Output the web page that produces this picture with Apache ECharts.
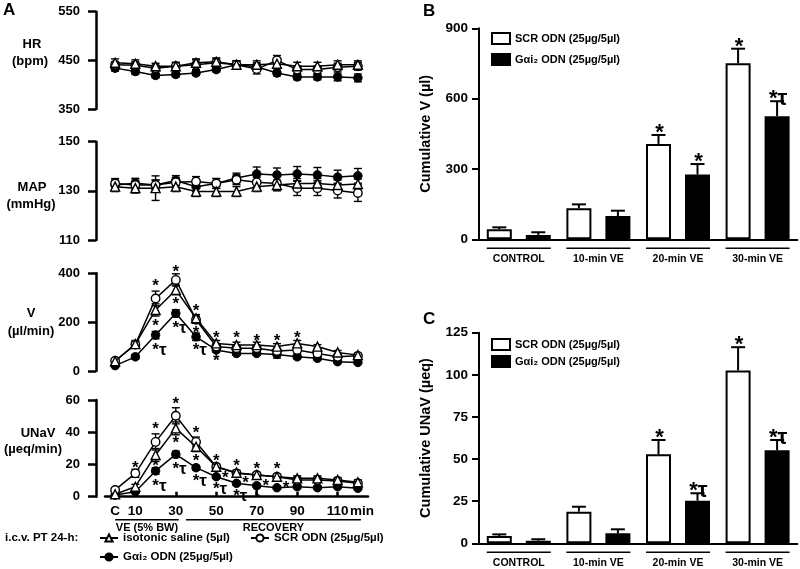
<!DOCTYPE html>
<html><head><meta charset="utf-8">
<script src="https://cdn.jsdelivr.net/npm/echarts@6/dist/echarts.min.js"></script>
<style>html,body{margin:0;padding:0;background:#fff}#c{width:800px;height:569px}</style>
</head><body><div id="c"></div><script>
// ---------- Panel A data ----------
const xCats = ['C','10','20','30','40','50','60','70','80','90','100','110','120'];
const xTickLabels = ['C','10','','30','','50','','70','','90','','110','min'];
const seriesNames = ['isotonic saline (5µl)', 'SCR ODN (25µg/5µl)', 'Gαi₂ ODN (25µg/5µl)'];

const hrTicks = [350, 450, 550];
const hrSaline = [445,443,438,438,445,447,441,441,443,438,438,441,441];
const hrSCR    = [441,440,434,438,441,445,441,432,450,431,431,436,438];
const hrGai    = [434,427,419,421,424,431,441,437,424,416,416,416,414];
const hrSalineErr = [8,8,6,8,8,8,8,8,8,8,8,8,8];
const hrSCRErr    = [6,7,6,7,10,8,8,10,10,8,8,8,8];
const hrGaiErr    = [6,6,5,5,5,5,8,8,6,6,6,8,8];

const mapTicks = [110, 130, 150];
const mapSaline = [131.7,131.1,131.1,131.7,129.7,129.7,129.7,131.7,132.4,133,133,132.4,132.8];
const mapSCR    = [133,132.4,132.4,133.5,133.8,133,134.5,133.5,133,131.1,131.1,130.1,129.1];
const mapGai    = [132.4,133.1,132.4,134.2,131.7,133,135.2,136.9,136.5,136.9,136.5,135.6,136.1];
const mapSalineErr = [2,2,5,2,2,2,2,2,2,2,2,2,2];
const mapSCRErr    = [2,2,2,2,2,2,2,2,3,3,3,3,3.4];
const mapGaiErr    = [2,2,2,2,2,2,2,2.8,2.8,3,3,2.8,3];

const vTicks = [0, 200, 400];
const vSaline = [40,110,250,332,216,113,106,106,100,113,100,76,65];
const vSCR    = [42,108,297,373,210,100,93,93,82,86,72,58,62];
const vGai    = [22,58,147,236,140,86,72,72,68,58,52,38,35];
const vSalineErr = [5,15,25,20,15,12,12,12,12,12,8,8,6];
const vSCRErr    = [5,12,30,25,15,10,10,10,10,12,8,8,6];
const vGaiErr    = [4,10,15,15,15,8,8,8,15,8,6,6,5];
const vNotes = [[2,366,'*'],[2,202,'*'],[2,106,'*τ'],[3,423,'*'],[3,293,'*'],[3,195,'*τ'],
  [4,263,'*'],[4,175,'*'],[4,106,'*τ'],[5,154,'*'],[5,58,'*'],[6,154,'*'],[7,140,'*'],[8,140,'*'],[9,154,'*']];

const uTicks = [0, 20, 40, 60];
const uSaline = [1.5,6.2,25.9,42.4,31,18.6,14.9,13.5,12.4,11.4,11.4,10.4,9];
const uSCR    = [4.2,14.5,34,50.2,34,18.6,14.5,13.5,12.4,10.4,10.4,9.7,8.3];
const uGai    = [1.0,3.1,16,26.3,18,12.4,8.3,6.8,5.6,6.2,5.6,6.2,5.2];
const uSalineErr = [0.5,1.5,4,4,3,1.5,1.5,1.5,1.5,1.5,1.5,1.5,1.5];
const uSCRErr    = [1,2.5,5,5,3,1.5,1.5,1.5,1.5,1.5,1.5,1.5,1.5];
const uGaiErr    = [0.5,1,2,2,1.5,1,1,1,1,1,1,1,1];
const uNotes = [[1,20.7,'*'],[2,44.5,'*'],[2,21.7,'*'],[2,9.7,'*τ'],[3,60,'*'],[3,36.2,'*'],[3,19.7,'*τ'],
  [4,42.4,'*'],[4,24.8,'*'],[4,12.4,'*τ'],[5,24.8,'*'],[5,7.3,'*τ'],[6,21.7,'*'],[6,3.1,'*τ'],
  [7,19.7,'*'],[7,3.1,'τ'],[8,19.7,'*']];
const uNotesSide = [[5,14.5,'*'],[6,11.4,'*'],[7,9.3,'*'],[8,8.3,'*']];
const phaseLabels = ['VE (5% BW)', 'RECOVERY'];
const phaseStart = [0, 4];
const phaseEnd = [3, 12];

// ---------- Panels B / C data ----------
const barCats = ['CONTROL','10-min VE','20-min VE','30-min VE'];
const barNames = ['SCR ODN (25µg/5µl)', 'Gαi₂ ODN (25µg/5µl)'];
const bTicks = [0, 300, 600, 900];
const bSCR = [43,132,407,751];
const bSCRErr = [8,17,38,62];
const bGai = [18,99,276,525];
const bGaiErr = [12,23,45,64];
const bSCRMarks = ['','','*','*'];
const bGaiMarks = ['','','*','*τ'];
const cTicks = [0, 25, 50, 75, 100, 125];
const cSCR = [4.3,18.8,52.8,102.6];
const cSCRErr = [1,2.9,8.5,13.8];
const cGai = [1.5,5.9,25.3,55.2];
const cGaiErr = [0.9,2.4,4.4,6.1];
const cSCRMarks = ['','','*','*'];
const cGaiMarks = ['','','*τ','*τ'];

// ---------- chart ----------
const FONT = "'Liberation Sans', Arial, Helvetica, sans-serif";
const chart = echarts.init(document.getElementById('c'), null, {renderer: 'canvas'});

const aGrids = [
  {top: 11.7, height: 97.3},
  {top: 141.7, height: 98.3},
  {top: 273.3, height: 97.7},
  {top: 400, height: 96.7}
];
const grids = aGrids.map(g => ({left: 105, width: 263, top: g.top, height: g.height}));
grids.push({left: 479, width: 318.4, top: 28.3, height: 211});
grids.push({left: 479, width: 318.4, top: 332.7, height: 210.6});

const aTicks = [hrTicks, mapTicks, vTicks, uTicks];
const xAxes = [], yAxes = [];
for (let i = 0; i < 4; i++) {
  const showX = i === 3;
  xAxes.push({
    type: 'category', gridIndex: i, data: xCats, boundaryGap: true, show: showX,
    axisLine: {show: showX, lineStyle: {color: '#000', width: 2.5}},
    axisTick: {show: showX, inside: true, length: 5, alignWithLabel: true,
      interval: (idx) => [0,1,3,5,7,9,11].includes(idx), lineStyle: {color: '#000', width: 2.5}},
    axisLabel: {show: showX, interval: 0, margin: 8,
      formatter: (v, idx) => idx === xCats.length - 1 ? '{m|' + xTickLabels[idx] + '}' : xTickLabels[idx],
      rich: {m: {fontSize: 13.5, fontWeight: 'bold', color: '#000', fontFamily: FONT, padding: [0, 0, 0, 8]}},
      fontSize: 13.5, fontWeight: 'bold', color: '#000', fontFamily: FONT},
    splitLine: {show: false}
  });
  const t = aTicks[i];
  yAxes.push({
    type: 'value', gridIndex: i, min: t[0], max: t[t.length - 1], offset: 9,
    axisLine: {show: true, lineStyle: {color: '#000', width: 2.5}},
    axisTick: {show: true, length: 8, customValues: t, lineStyle: {color: '#000', width: 2.5}},
    axisLabel: {customValues: t, margin: 16, fontSize: 13, fontWeight: 'bold', color: '#000', fontFamily: FONT},
    splitLine: {show: false}
  });
}
[[4, bTicks, 'Cumulative V (µl)'], [5, cTicks, 'Cumulative UNaV (µeq)']].forEach(([gi, t, nm]) => {
  xAxes.push({
    type: 'category', gridIndex: gi, data: barCats,
    axisLine: {show: true, lineStyle: {color: '#000', width: 2}},
    axisTick: {show: false},
    axisLabel: {margin: 14, fontSize: 10.5, fontWeight: 'bold', color: '#000', fontFamily: FONT},
    splitLine: {show: false}
  });
  yAxes.push({
    type: 'value', gridIndex: gi, min: t[0], max: t[t.length - 1],
    name: nm, nameLocation: 'middle', nameGap: 46,
    nameTextStyle: {fontSize: 14.5, fontWeight: 'bold', color: '#000', fontFamily: FONT},
    axisLine: {show: true, lineStyle: {color: '#000', width: 2}},
    axisTick: {show: true, length: 7, customValues: t, lineStyle: {color: '#000', width: 2}},
    axisLabel: {customValues: t, margin: 11, fontSize: 13.5, fontWeight: 'bold', color: '#000', fontFamily: FONT},
    splitLine: {show: false}
  });
});

function errSeries(axisIdx, vals, errs, opt) {
  return {
    type: 'custom', xAxisIndex: axisIdx, yAxisIndex: axisIdx, z: 1, clip: false, silent: true,
    data: vals.map((v, i) => [i, v, errs[i]]),
    encode: {x: 0, y: 1},
    renderItem: (params, api) => {
      const i = api.value(0), v = api.value(1), e = api.value(2);
      const top = api.coord([i, v + e]);
      const bot = api.coord([i, opt.both ? v - e : v]);
      const x = top[0] + (opt.dx || 0);
      const st = {stroke: '#000', lineWidth: opt.lw};
      const ch = [
        {type: 'line', shape: {x1: x, y1: top[1], x2: x, y2: bot[1]}, style: st},
        {type: 'line', shape: {x1: x - opt.cap, y1: top[1], x2: x + opt.cap, y2: top[1]}, style: st}
      ];
      if (opt.both) ch.push({type: 'line', shape: {x1: x - opt.cap, y1: bot[1], x2: x + opt.cap, y2: bot[1]}, style: st});
      return {type: 'group', children: ch};
    }
  };
}

function noteSeries(axisIdx, notes, fs, dx) {
  return {
    type: 'custom', xAxisIndex: axisIdx, yAxisIndex: axisIdx, z: 5, clip: false, silent: true,
    data: notes.map(n => [n[0], n[1]]),
    encode: {x: 0, y: 1},
    renderItem: (params, api) => {
      const n = notes[params.dataIndex];
      const p = api.coord([api.value(0), api.value(1)]);
      const txt = n[2];
      const starFirst = txt[0] === '*';
      return {type: 'text', x: p[0] + (dx || 0) - (starFirst ? fs * 0.195 : 0), y: p[1] + (starFirst ? fs * 0.28 : 0),
        style: {text: txt, fill: '#000', fontSize: fs, fontWeight: 'bold', fontFamily: FONT,
          align: starFirst ? 'left' : 'center', verticalAlign: 'middle'}};
    }
  };
}

const series = [];
const aData = [
  [hrSaline, hrSCR, hrGai, hrSalineErr, hrSCRErr, hrGaiErr],
  [mapSaline, mapSCR, mapGai, mapSalineErr, mapSCRErr, mapGaiErr],
  [vSaline, vSCR, vGai, vSalineErr, vSCRErr, vGaiErr],
  [uSaline, uSCR, uGai, uSalineErr, uSCRErr, uGaiErr]
];
const symStyles = [
  {symbol: 'triangle', symbolSize: 9, itemStyle: {color: '#fff', borderColor: '#000', borderWidth: 1.4}, z: 4},
  {symbol: 'circle', symbolSize: 8.5, itemStyle: {color: '#fff', borderColor: '#000', borderWidth: 1.4}, z: 3},
  {symbol: 'circle', symbolSize: 8.5, itemStyle: {color: '#000', borderColor: '#000', borderWidth: 1}, z: 2}
];
aData.forEach((d, ai) => {
  for (let k = 0; k < 3; k++) {
    series.push(errSeries(ai, d[k], d[k + 3], {both: true, cap: 4, lw: 1.4}));
  }
  for (let k = 0; k < 3; k++) {
    series.push(Object.assign({
      type: 'line', name: seriesNames[k], xAxisIndex: ai, yAxisIndex: ai, data: d[k],
      showSymbol: true, clip: false, lineStyle: {color: '#000', width: 1.5}
    }, symStyles[k]));
  }
});
series.push(noteSeries(2, vNotes, 17, 0));
series.push(noteSeries(3, uNotes, 17, 0));
series.push(noteSeries(3, uNotesSide, 17, 9));

// phase underlines under the panel A time axis
series.push({
  type: 'custom', xAxisIndex: 3, yAxisIndex: 3, clip: false, silent: true,
  data: phaseStart.map((s, i) => [s, 0, phaseEnd[i]]),
  encode: {x: 0, y: 1},
  renderItem: (params, api) => {
    const a = api.coord([api.value(0), 0]);
    const b = api.coord([api.value(2), 0]);
    const x1 = a[0] - (params.dataIndex === 0 ? 0 : 10), x2 = b[0] + 3;
    return {type: 'group', children: [
      {type: 'line', shape: {x1, y1: a[1] + 23, x2, y2: a[1] + 23}, style: {stroke: '#000', lineWidth: 1.5}},
      {type: 'text', x: (x1 + x2) / 2, y: a[1] + 31, style: {text: phaseLabels[params.dataIndex], fill: '#000',
        fontSize: 11, fontWeight: 'bold', fontFamily: FONT, align: 'center', verticalAlign: 'middle'}}
    ]};
  }
});

// bar panels
const barStyles = [
  {color: '#fff', borderColor: '#000', borderWidth: 2},
  {color: '#000', borderColor: '#000', borderWidth: 2}
];
[[4, bSCR, bGai, bSCRErr, bGaiErr, bSCRMarks, bGaiMarks], [5, cSCR, cGai, cSCRErr, cGaiErr, cSCRMarks, cGaiMarks]]
.forEach(([ax, s1, s2, e1, e2, m1, m2]) => {
  [s1, s2].forEach((vals, k) => {
    series.push({type: 'bar', name: barNames[k], xAxisIndex: ax, yAxisIndex: ax, data: vals,
      barWidth: 25, barGap: '56%', itemStyle: barStyles[k], z: 2});
  });
  [[s1, e1, m1, -19.5], [s2, e2, m2, 19.5]].forEach(([vals, errs, marks, dx]) => {
    series.push(errSeries(ax, vals, errs, {both: false, cap: 7, lw: 2, dx}));
    series.push({
      type: 'custom', xAxisIndex: ax, yAxisIndex: ax, z: 5, clip: false, silent: true,
      data: vals.map((v, i) => [i, v + errs[i]]), encode: {x: 0, y: 1},
      renderItem: (params, api) => {
        const p = api.coord([api.value(0), api.value(1)]);
        const t = marks[params.dataIndex];
        if (!t) return null;
        return {type: 'text', x: p[0] + dx + 1, y: p[1] - 8 + 22 * 0.28,
          style: {text: t, fill: '#000', fontSize: 22, fontWeight: 'bold', fontFamily: FONT,
            align: 'center', verticalAlign: 'middle'}};
      }
    });
  });
  series.push({
    type: 'custom', xAxisIndex: ax, yAxisIndex: ax, clip: false, silent: true,
    data: barCats.map((c, i) => [i, 0]), encode: {x: 0, y: 1},
    renderItem: (params, api) => {
      const p = api.coord([api.value(0), 0]);
      return {type: 'line', shape: {x1: p[0] - 32, y1: p[1] + 9, x2: p[0] + 32, y2: p[1] + 9},
        style: {stroke: '#000', lineWidth: 1.5}};
    }
  });
});

const legText = {fontSize: 11.5, fontWeight: 'bold', color: '#000', fontFamily: FONT};
const barLegText = {fontSize: 11, fontWeight: 'bold', color: '#000', fontFamily: FONT};
chart.setOption({
  animation: false,
  backgroundColor: '#fff',
  textStyle: {fontFamily: FONT},
  grid: grids,
  xAxis: xAxes,
  yAxis: yAxes,
  legend: [
    {data: [seriesNames[0], seriesNames[1]], left: 99, top: 532, padding: 0, itemWidth: 18, itemHeight: 9, itemGap: 20,
      textStyle: legText, selectedMode: false},
    {data: [seriesNames[2]], left: 99, top: 551, padding: 0, itemWidth: 18, itemHeight: 9, textStyle: legText, selectedMode: false},
    {data: barNames, orient: 'vertical', left: 491, top: 32, padding: 0, icon: 'rect', itemWidth: 18, itemHeight: 11, itemGap: 8,
      textStyle: barLegText, selectedMode: false},
    {data: barNames, orient: 'vertical', left: 491, top: 338, padding: 0, icon: 'rect', itemWidth: 18, itemHeight: 11, itemGap: 4,
      textStyle: barLegText, selectedMode: false}
  ],
  graphic: [
    {type: 'text', left: 3, top: 2, style: {text: 'A', fontSize: 17, fontWeight: 'bold', fill: '#000', fontFamily: FONT}},
    {type: 'text', left: 423, top: 3, style: {text: 'B', fontSize: 17, fontWeight: 'bold', fill: '#000', fontFamily: FONT}},
    {type: 'text', left: 423, top: 311, style: {text: 'C', fontSize: 17, fontWeight: 'bold', fill: '#000', fontFamily: FONT}},
    ...[['HR', 32, 44], ['(bpm)', 30, 61], ['MAP', 32, 187], ['(mmHg)', 31, 204], ['V', 31, 313], ['(µl/min)', 31, 331],
        ['UNaV', 38, 433], ['(µeq/min)', 33, 449]].map(([t, x, y]) => ({
      type: 'text', x, y, style: {text: t, fontSize: 13, fontWeight: 'bold', fill: '#000', fontFamily: FONT,
        align: 'center', verticalAlign: 'middle'}})),
    {type: 'text', x: 5, y: 538, style: {text: 'i.c.v. PT 24-h:', fontSize: 11.5, fontWeight: 'bold', fill: '#000',
      fontFamily: FONT, align: 'left', verticalAlign: 'middle'}}
  ],
  series
});
</script></body></html>
